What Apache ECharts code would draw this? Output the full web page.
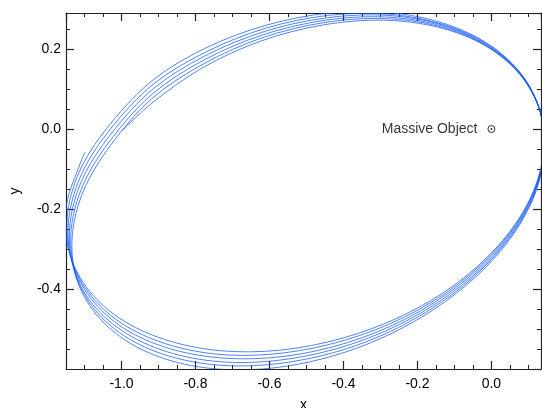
<!DOCTYPE html>
<html>
<head>
<meta charset="utf-8">
<title>orbit</title>
<script src="https://cdn.jsdelivr.net/npm/echarts@6/dist/echarts.min.js"></script>
<style>
html, body { margin: 0; padding: 0; background: #fff; }
#main { width: 542px; height: 408px; }
</style>
</head>
<body>
<div id="main"></div>
<script>
// the six passes of the precessing orbit
var orbit1 = [
    [-1.029, 0.028], [-1.109, -0.080], [-1.149, -0.191], [-1.144, -0.298], [-1.096, -0.394],
    [-1.007, -0.472], [-0.884, -0.526], [-0.736, -0.554], [-0.572, -0.553], [-0.403, -0.523],
    [-0.241, -0.467], [-0.097, -0.388], [0.019, -0.291], [0.100, -0.183], [0.139, -0.072],
    [0.134, 0.035], [0.086, 0.131], [-0.003, 0.209], [-0.125, 0.263], [-0.274, 0.291],
    [-0.438, 0.290], [-0.607, 0.260], [-0.769, 0.204], [-0.913, 0.124]
];
var orbit2 = [
    [-1.029, 0.014], [-1.108, -0.095], [-1.145, -0.206], [-1.139, -0.313], [-1.090, -0.408],
    [-1.001, -0.485], [-0.877, -0.538], [-0.728, -0.564], [-0.564, -0.560], [-0.396, -0.528],
    [-0.235, -0.470], [-0.092, -0.389], [0.023, -0.290], [0.102, -0.182], [0.140, -0.070],
    [0.134, 0.037], [0.084, 0.132], [-0.005, 0.209], [-0.129, 0.261], [-0.277, 0.287],
    [-0.442, 0.284], [-0.610, 0.252], [-0.771, 0.193], [-0.914, 0.112]
];
var orbit3 = [
    [-1.029, 0.001], [-1.106, -0.109], [-1.142, -0.221], [-1.135, -0.328], [-1.084, -0.422],
    [-0.994, -0.498], [-0.870, -0.549], [-0.721, -0.573], [-0.557, -0.568], [-0.389, -0.534],
    [-0.228, -0.473], [-0.087, -0.390], [0.027, -0.290], [0.104, -0.180], [0.141, -0.068],
    [0.133, 0.039], [0.083, 0.133], [-0.008, 0.208], [-0.132, 0.260], [-0.281, 0.284],
    [-0.445, 0.278], [-0.613, 0.244], [-0.774, 0.183], [-0.915, 0.100]
];
var orbit4 = [
    [-1.029, -0.013], [-1.105, -0.124], [-1.139, -0.236], [-1.131, -0.343], [-1.079, -0.437],
    [-0.987, -0.511], [-0.862, -0.561], [-0.713, -0.583], [-0.549, -0.575], [-0.382, -0.539],
    [-0.222, -0.476], [-0.081, -0.391], [0.031, -0.290], [0.107, -0.179], [0.141, -0.067],
    [0.133, 0.040], [0.081, 0.134], [-0.011, 0.208], [-0.135, 0.258], [-0.285, 0.280],
    [-0.449, 0.272], [-0.616, 0.236], [-0.776, 0.173], [-0.916, 0.088]
];
var orbit5 = [
    [-1.029, -0.027], [-1.103, -0.138], [-1.136, -0.251], [-1.126, -0.358], [-1.073, -0.451],
    [-0.981, -0.524], [-0.855, -0.572], [-0.705, -0.592], [-0.541, -0.582], [-0.374, -0.544],
    [-0.216, -0.479], [-0.076, -0.392], [0.035, -0.289], [0.109, -0.178], [0.142, -0.065],
    [0.132, 0.042], [0.079, 0.135], [-0.014, 0.208], [-0.139, 0.256], [-0.289, 0.276],
    [-0.453, 0.266], [-0.620, 0.228], [-0.778, 0.163], [-0.918, 0.076]
];
var orbit6 = [
    [-1.029, -0.040], [-1.102, -0.153], [-1.133, -0.266], [-1.122, -0.373], [-1.067, -0.465],
    [-0.974, -0.537], [-0.848, -0.584], [-0.698, -0.602], [-0.534, -0.590], [-0.367, -0.549],
    [-0.210, -0.482], [-0.071, -0.393], [0.039, -0.289], [0.112, -0.176], [0.143, -0.063],
    [0.132, 0.044], [0.077, 0.136], [-0.016, 0.208], [-0.142, 0.254], [-0.292, 0.272],
    [-0.456, 0.260], [-0.623, 0.220], [-0.781, 0.153], [-0.919, 0.064]
];
// where the track begins (on the first pass) and stops (on the last one)
var trackStart = [-1.098, -0.058];
var trackEnd = [-0.997, -0.003];
var massivePoint = [[0, 0]];
var massiveName = 'Massive Object';

var xMin = -1.15, xMax = 0.134;
var yMin = -0.6, yMax = 0.29;
var fontFam = '"Liberation Sans", Arial, Helvetica, sans-serif';
var lineCol = '#222';

// one continuous track: pass after pass
var track = [trackStart].concat(orbit1.slice(1), orbit2, orbit3, orbit4, orbit5, orbit6, [trackEnd]);

function tickFmt(v) {
    return (Math.round(v * 10) / 10).toFixed(1);
}

// one axis for major ticks (labels on bottom/left), one for the 0.05 minor ticks
function xAxes(pos, labels) {
    return [{
        type: 'value', position: pos, min: xMin, max: xMax,
        minInterval: 0.2, maxInterval: 0.2,
        name: labels ? 'x' : '', nameLocation: 'middle', nameGap: 29,
        nameTextStyle: { color: '#000', fontSize: 14, fontFamily: fontFam },
        axisLine: { show: true, onZero: false, lineStyle: { color: lineCol, width: 1.2 } },
        axisTick: { show: true, inside: true, length: 8, lineStyle: { color: lineCol, width: 1.2 } },
        axisLabel: { show: labels, color: '#000', fontSize: 14, fontFamily: fontFam, margin: 8,
            showMinLabel: false, showMaxLabel: false, formatter: tickFmt },
        splitLine: { show: false }
    }, {
        type: 'value', position: pos, min: xMin, max: xMax, interval: 0.05,
        axisLine: { show: false, onZero: false },
        axisTick: { show: true, inside: true, length: 4, lineStyle: { color: lineCol, width: 1 } },
        axisLabel: { show: false },
        splitLine: { show: false }
    }];
}

function yAxes(pos, labels) {
    return [{
        type: 'value', position: pos, min: yMin, max: yMax, interval: 0.2,
        name: labels ? 'y' : '', nameLocation: 'middle', nameGap: 44,
        nameTextStyle: { color: '#000', fontSize: 14, fontFamily: fontFam },
        axisLine: { show: true, onZero: false, lineStyle: { color: lineCol, width: 1.2 } },
        axisTick: { show: true, inside: true, length: 8, lineStyle: { color: lineCol, width: 1.2 } },
        axisLabel: { show: labels, color: '#000', fontSize: 14, fontFamily: fontFam, margin: 5,
            showMinLabel: false, showMaxLabel: false, formatter: tickFmt },
        splitLine: { show: false }
    }, {
        type: 'value', position: pos, min: yMin, max: yMax, interval: 0.05,
        axisLine: { show: false, onZero: false },
        axisTick: { show: true, inside: true, length: 4, lineStyle: { color: lineCol, width: 1 } },
        axisLabel: { show: false },
        splitLine: { show: false }
    }];
}

// the track as one smooth polyline, mapped with the grid's own axes
function renderTrack(params, api) {
    var pts = track.map(function (p) { return api.coord(p); });
    return {
        type: 'polyline',
        shape: { points: pts, smooth: 0.33 },
        style: { fill: null, stroke: 'rgba(20,90,250,0.75)', lineWidth: 1 }
    };
}

var chart = echarts.init(document.getElementById('main'), null, { renderer: 'canvas' });
chart.setOption({
    animation: false,
    backgroundColor: '#fff',
    grid: { left: 66, right: 1, top: 13, bottom: 39, containLabel: false, outerBoundsMode: 'none' },
    xAxis: xAxes('bottom', true).concat(xAxes('top', false)),
    yAxis: yAxes('left', true).concat(yAxes('right', false)),
    series: [
        {
            type: 'custom', coordinateSystem: 'cartesian2d', xAxisIndex: 0, yAxisIndex: 0,
            data: [trackStart],
            renderItem: renderTrack, clip: true, silent: true
        },
        {
            type: 'scatter', data: massivePoint, xAxisIndex: 0, yAxisIndex: 0,
            symbol: 'circle', symbolSize: 7, silent: true,
            itemStyle: { color: '#fff', borderColor: '#000', borderWidth: 1 },
            label: { show: true, position: 'left', distance: 10, formatter: massiveName,
                color: '#000', fontSize: 14, fontFamily: fontFam }
        },
        {
            type: 'scatter', data: massivePoint, xAxisIndex: 0, yAxisIndex: 0,
            symbol: 'circle', symbolSize: 2, silent: true,
            itemStyle: { color: '#000' }
        }
    ]
});
</script>
</body>
</html>
